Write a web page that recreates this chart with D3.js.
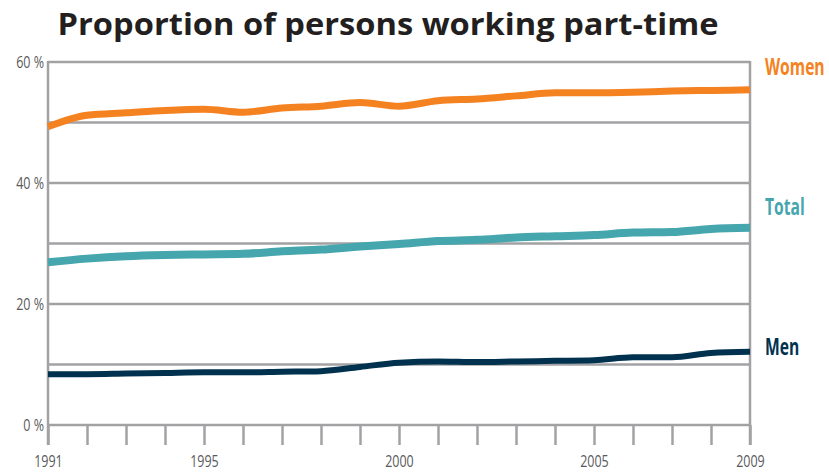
<!DOCTYPE html>
<html>
<head>
<meta charset="utf-8">
<script src="https://cdn.jsdelivr.net/npm/d3@7"></script>
<style>
  body { margin: 0; background: #fff; }
  .tickLabel { font-family: 'Open Sans', sans-serif; font-size: 16px; fill: #58595b; }
  .seriesLabel { font-family: 'Open Sans', sans-serif; font-weight: 700; font-size: 23px; }
</style>
</head>
<body>
<svg id="chart"></svg>
<script>
const years = [1991, 1992, 1993, 1994, 1995, 1996, 1997, 1998, 1999, 2000,
    2001, 2002, 2003, 2004, 2005, 2006, 2007, 2008, 2009];
const women = [49.3, 51.2, 51.6, 52.0, 52.2, 51.7, 52.4, 52.7, 53.3, 52.7,
    53.6, 53.9, 54.4, 54.9, 54.9, 55.0, 55.2, 55.3, 55.4];
const total = [26.9, 27.5, 27.9, 28.1, 28.2, 28.3, 28.7, 29.0, 29.5, 29.9,
    30.4, 30.6, 31.0, 31.2, 31.4, 31.8, 31.9, 32.4, 32.6];
const men = [8.4, 8.4, 8.5, 8.6, 8.7, 8.7, 8.8, 8.9, 9.6, 10.3,
    10.5, 10.4, 10.5, 10.6, 10.7, 11.2, 11.2, 11.9, 12.1];
const yTicks = [0, 10, 20, 30, 40, 50, 60];
const yLabels = [0, 20, 40, 60];
const xLabels = [1991, 1995, 2000, 2005, 2009];

const series = [
    { name: 'Women', values: women, color: '#f58220', width: 7 },
    { name: 'Total', values: total, color: '#45a6ae', width: 8 },
    { name: 'Men', values: men, color: '#00324f', width: 6 }
];

const width = 829, height = 472;
const margin = { top: 62, right: 79, bottom: 47, left: 48 };
const innerW = width - margin.left - margin.right;
const innerH = height - margin.top - margin.bottom;

const svg = d3.select('#chart')
    .attr('width', width)
    .attr('height', height);

// title
svg.append('text')
    .attr('x', 388)
    .attr('y', 35)
    .attr('text-anchor', 'middle')
    .attr('font-family', 'Open Sans, sans-serif')
    .attr('font-weight', 700)
    .attr('font-size', 31)
    .attr('fill', '#231f20')
    .attr('textLength', 661)
    .attr('lengthAdjust', 'spacingAndGlyphs')
    .text('Proportion of persons working part-time');

const chart = svg.append('g')
    .attr('transform', `translate(${margin.left},${margin.top})`);

const xScale = d3.scaleLinear().domain([1991, 2009]).range([0, innerW]);
const yScale = d3.scaleLinear().domain([0, 60]).range([innerH, 0]);

// gridlines
chart.selectAll('.grid')
    .data(yTicks)
    .join('line')
    .attr('class', 'grid')
    .attr('x1', 0)
    .attr('x2', innerW)
    .attr('y1', d => yScale(d))
    .attr('y2', d => yScale(d))
    .attr('stroke', '#a2a2a4')
    .attr('stroke-width', 2.5);

// side borders
chart.selectAll('.side')
    .data([1991, 2009])
    .join('line')
    .attr('class', 'side')
    .attr('x1', d => xScale(d))
    .attr('x2', d => xScale(d))
    .attr('y1', yScale(60) - 1)
    .attr('y2', innerH + 20)
    .attr('stroke', '#a2a2a4')
    .attr('stroke-width', 2.5);

// x axis ticks each year
const xAxis = d3.axisBottom(xScale)
    .tickValues(years)
    .tickSize(20)
    .tickFormat(d => xLabels.includes(d) ? d : '');

const xAxisG = chart.append('g')
    .attr('transform', `translate(0,${innerH})`)
    .call(xAxis);
xAxisG.select('.domain').remove();
xAxisG.selectAll('.tick line').attr('stroke', '#a2a2a4').attr('stroke-width', 2.5);
xAxisG.selectAll('.tick text')
    .attr('class', 'tickLabel')
    .attr('y', null)
    .attr('dy', null)
    .attr('font-family', null)
    .attr('font-size', null)
    .attr('fill', null)
    .attr('transform', 'translate(0,42) scale(0.78,1)');

// y labels (squeezed to look like a condensed face)
chart.selectAll('.yLabel')
    .data(yLabels)
    .join('text')
    .attr('class', 'tickLabel')
    .attr('transform', d => `translate(-4,${yScale(d)}) scale(0.78,1)`)
    .attr('dy', '0.4em')
    .attr('text-anchor', 'end')
    .text(d => `${d} %`);

const line = d3.line()
    .x((d, i) => xScale(years[i]))
    .y(d => yScale(d))
    .curve(d3.curveMonotoneX);

chart.selectAll('.series')
    .data(series)
    .join('path')
    .attr('class', 'series')
    .attr('d', d => line(d.values))
    .attr('fill', 'none')
    .attr('stroke', d => d.color)
    .attr('stroke-width', d => d.width);

// series labels
const labelPos = { Women: 13, Total: 153, Men: 293 };
chart.selectAll('.seriesLabel')
    .data(series)
    .join('text')
    .attr('class', 'seriesLabel')
    .attr('transform', d => `translate(${innerW + 15},${labelPos[d.name]}) scale(0.68,1)`)
    .attr('fill', d => d.color)
    .text(d => d.name);
</script>
</body>
</html>
